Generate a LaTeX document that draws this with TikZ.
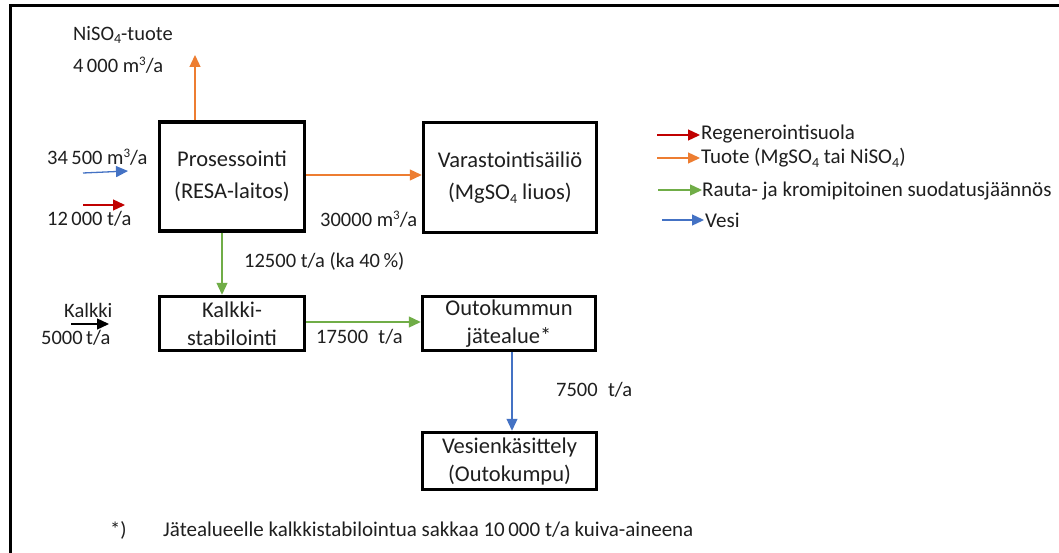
\documentclass[tikz,border=0pt]{standalone}
\usepackage{fontspec}
\setmainfont{Carlito}
\usetikzlibrary{arrows.meta}
\definecolor{cred}{HTML}{C00000}
\definecolor{corange}{HTML}{ED7D31}
\definecolor{cgreen}{HTML}{70AD47}
\definecolor{cblue}{HTML}{4472C4}
\newcommand{\subfour}{\raisebox{-0.35ex}{\fontsize{14}{14}\selectfont 4}}
\newcommand{\cubed}{\raisebox{0.7ex}{\fontsize{13}{13}\selectfont 3}}
\tikzset{
  box/.style={draw=black, line width=3.5pt, align=center, inner sep=0pt,
    font=\fontsize{22.5}{32}\selectfont, text=black!88},
  smallbox/.style={box, font=\fontsize{22.5}{28}\selectfont},
  lbl/.style={inner sep=0pt, font=\fontsize{20.5}{22}\selectfont, text=black!88},
  leg/.style={lbl, font=\fontsize{21}{24}\selectfont},
  flow/.style={line width=1.3pt, -{Triangle[length=12pt,width=11pt]}},
}
\begin{document}
\begin{tikzpicture}[x=1pt,y=-1pt]
  \useasboundingbox (0,0) rectangle (1059,553);
  \fill[white] (0,0) rectangle (1059,553);
  % outer frame (open towards the right and bottom)
  \draw[line width=3pt] (10.5,600) -- (10.5,5.5) -- (1070,5.5);

  % process boxes
  \node[box, minimum width=145pt, minimum height=109pt] (proc) at (232,176.5)
    {Prosessointi\\(RESA-laitos)};
  \node[box, minimum width=173pt, minimum height=110pt] (vara) at (510,177.5)
    {Varastointisäiliö\\(MgSO\subfour{} liuos)};
  \node[smallbox, minimum width=145pt, minimum height=54pt] (kalk) at (232,323.5)
    {Kalkki-\\stabilointi};
  \node[smallbox, minimum width=173pt, minimum height=54pt] (outo) at (509,323.5)
    {Outokummun\\jätealue*};
  \node[smallbox, minimum width=174pt, minimum height=57pt] (vesi) at (509.5,461)
    {Vesienkäsittely\\(Outokumpu)};

  % helper coordinates
  \coordinate (nitop) at (195,55);
  \coordinate (gx) at (222,0);
  \coordinate (bx) at (512,0);
  \coordinate (win0) at (83,173);
  \coordinate (win1) at (128,171);
  \coordinate (rin0) at (83,205);
  \coordinate (rin1) at (125,205);
  \coordinate (kin0) at (71,324);
  \coordinate (kin1) at (109,324);

  % flows
  \draw[flow, corange] (proc.north -| nitop) -- (nitop);
  \draw[flow, corange] (proc.east |- 0,175) -- (vara.west |- 0,175);
  \draw[flow, cgreen] (proc.south -| gx) -- (kalk.north -| gx);
  \draw[flow, cgreen] (kalk.east |- 0,322) -- (outo.west |- 0,322);
  \draw[flow, cblue] (outo.south -| bx) -- (vesi.north -| bx);
  \draw[flow, cblue] (win0) -- (win1);
  \draw[flow, cred] (rin0) -- (rin1);
  \draw[flow, black] (kin0) -- (kin1);

  % flow labels
  \node[lbl, anchor=west] (t1) at (73,35) {NiSO\subfour-tuote};
  \node[lbl, anchor=west] (t2) at (73,65) {4\,000 m\cubed/a};
  \node[lbl, anchor=west] (t3) at (47,157) {34\,500 m\cubed/a};
  \node[lbl, anchor=west] (t4) at (47,219) {12\,000 t/a};
  \node[lbl, anchor=west] (t5) at (320,219) {30000 m\cubed/a};
  \node[lbl, anchor=west] (t6) at (244,261) {12500 t/a (ka 40\,\%)};
  \node[lbl, anchor=west] (t7) at (64,310) {Kalkki};
  \node[lbl, anchor=west] (t8) at (41,338) {5000\,t/a};
  \node[lbl, anchor=west] (t9) at (316,337) {17500\enspace t/a};
  \node[lbl, anchor=west] (t10) at (556,390) {7500\enspace t/a};

  % legend
  \coordinate (l1a) at (657,135); \coordinate (l1b) at (700,135);
  \coordinate (l2a) at (657,158); \coordinate (l2b) at (700,158);
  \coordinate (l3a) at (658,190); \coordinate (l3b) at (702,190);
  \coordinate (l4a) at (662,220); \coordinate (l4b) at (704,220);
  \draw[flow, cred] (l1a) -- (l1b);
  \draw[flow, corange] (l2a) -- (l2b);
  \draw[flow, cgreen] (l3a) -- (l3b);
  \draw[flow, cblue] (l4a) -- (l4b);
  \node[leg, anchor=west] (g1) at (701,134) {Regenerointisuola};
  \node[leg, anchor=west] (g2) at (701,158) {Tuote (MgSO\subfour{} tai NiSO\subfour)};
  \node[leg, anchor=west] (g3) at (702,191) {Rauta- ja kromipitoinen suodatusjäännös};
  \node[leg, anchor=west] (g4) at (705,220) {Vesi};

  % footnote
  \node[lbl, anchor=west] (f1) at (110,530) {*)};
  \node[lbl, anchor=west] (f2) at (163,530)
    {\fontsize{21}{24}\selectfont Jätealueelle kalkkistabilointua sakkaa 10\,000 t/a kuiva-aineena};
\end{tikzpicture}
\end{document}
